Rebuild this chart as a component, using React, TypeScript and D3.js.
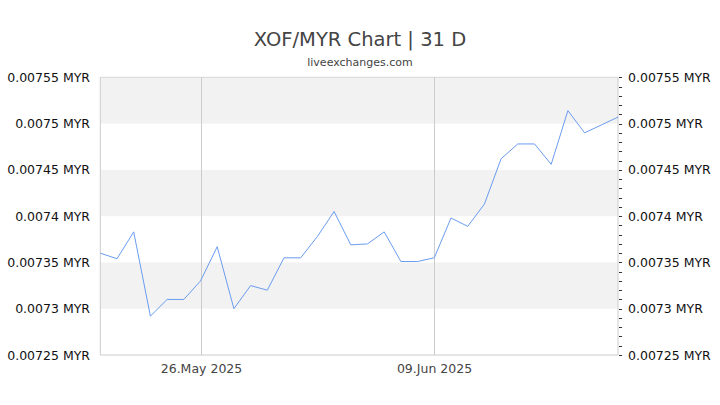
import { useMemo } from "react";
import * as d3 from "d3";

const W = 720;
const H = 405;
const PAD = { top: 77.3, right: 102, bottom: 50, left: 100.3 };

const dates = [
  "2025-05-20", "2025-05-21", "2025-05-22", "2025-05-23", "2025-05-24",
  "2025-05-25", "2025-05-26", "2025-05-27", "2025-05-28", "2025-05-29",
  "2025-05-30", "2025-05-31", "2025-06-01", "2025-06-02", "2025-06-03",
  "2025-06-04", "2025-06-05", "2025-06-06", "2025-06-07", "2025-06-08",
  "2025-06-09", "2025-06-10", "2025-06-11", "2025-06-12", "2025-06-13",
  "2025-06-14", "2025-06-15", "2025-06-16", "2025-06-17", "2025-06-18",
  "2025-06-20",
];
const rates = [
  0.00736, 0.007354, 0.007383, 0.007292, 0.00731, 0.00731, 0.00733,
  0.007367, 0.0073, 0.007325, 0.00732, 0.007355, 0.007355, 0.007378,
  0.007405, 0.007369, 0.00737, 0.007383, 0.007351, 0.007351, 0.007355,
  0.007398, 0.007389, 0.007413, 0.007462, 0.007478, 0.007478, 0.007456,
  0.007514, 0.00749, 0.007507,
];
const yTicks = [0.00725, 0.0073, 0.00735, 0.0074, 0.00745, 0.0075, 0.00755];
const xTickDates = ["2025-05-26", "2025-06-09"];
const xTickLabels = ["26.May 2025", "09.Jun 2025"];

const FONT = "'DejaVu Sans', Verdana, sans-serif";

export default function App() {
  const parse = d3.utcParse("%Y-%m-%d");
  const data = useMemo(
    () => dates.map((d, i) => ({ date: parse(d)!, v: rates[i] })),
    [],
  );

  const x = d3
    .scaleUtc()
    .domain(d3.extent(data, (d) => d.date) as [Date, Date])
    .range([PAD.left, W - PAD.right]);
  const y = d3
    .scaleLinear()
    .domain([0.00725, 0.00755])
    .range([H - PAD.bottom, PAD.top]);

  const line = d3
    .line<{ date: Date; v: number }>()
    .x((d) => x(d.date))
    .y((d) => y(d.v));

  const minor = d3.range(0, 31).map((i) => 0.00725 + i * 0.00001);
  const x0 = PAD.left;
  const x1 = W - PAD.right;

  return (
    <div style={{ position: "fixed", left: 0, top: 0 }}>
      <svg width={W} height={H} style={{ display: "block", background: "#fff" }}>
        {/* alternating bands */}
        {yTicks.slice(0, -1).map((t, i) =>
          i % 2 === 1 ? (
            <rect
              key={t}
              x={x0}
              y={y(yTicks[i + 1])}
              width={x1 - x0}
              height={y(t) - y(yTicks[i + 1])}
              fill="#f2f2f2"
            />
          ) : null,
        )}
        {/* frame */}
        <line x1={x0} x2={x1} y1={y(0.00755)} y2={y(0.00755)} stroke="#d8d8d8" />
        <line x1={x0} x2={x1} y1={y(0.00725)} y2={y(0.00725)} stroke="#ccc" />
        <line x1={x0} x2={x0} y1={y(0.00755)} y2={y(0.00725)} stroke="#ccc" />
        <line x1={x1} x2={x1} y1={y(0.00755)} y2={y(0.00725)} stroke="#ccc" />
        {/* vertical date lines */}
        {xTickDates.map((d, i) => {
          const xx = Math.round(x(parse(d)!)) + 0.5;
          return (
            <g key={d}>
              <line x1={xx} x2={xx} y1={y(0.00755)} y2={y(0.00725)} stroke="#ccc" />
              <text
                x={xx}
                y={373}
                textAnchor="middle"
                fontFamily={FONT}
                fontSize={12.5}
                fill="#444"
              >
                {xTickLabels[i]}
              </text>
            </g>
          );
        })}
        {/* right minor ticks */}
        {minor.map((m) => (
          <line
            key={m}
            x1={x1 + 1}
            x2={x1 + 4}
            y1={Math.round(y(m)) + 0.5}
            y2={Math.round(y(m)) + 0.5}
            stroke="#333"
          />
        ))}
        {/* y labels */}
        {yTicks.map((t) => (
          <g key={t}>
            <text
              x={90}
              y={y(t) + 4.5}
              textAnchor="end"
              fontFamily={FONT}
              fontSize={12.5}
              fill="#111"
            >
              {`${+t.toFixed(5)} MYR`}
            </text>
            <text
              x={628}
              y={y(t) + 4.5}
              textAnchor="start"
              fontFamily={FONT}
              fontSize={12.5}
              fill="#111"
            >
              {`${+t.toFixed(5)} MYR`}
            </text>
          </g>
        ))}
        <path d={line(data) ?? ""} fill="none" stroke="#6a9cf0" strokeWidth={1} />
        <text
          x={W / 2}
          y={46}
          textAnchor="middle"
          fontFamily={FONT}
          fontSize={19.5}
          fill="#444"
        >
          XOF/MYR Chart | 31 D
        </text>
        <text
          x={W / 2}
          y={66}
          textAnchor="middle"
          fontFamily={FONT}
          fontSize={11}
          fill="#444"
        >
          liveexchanges.com
        </text>
      </svg>
    </div>
  );
}
